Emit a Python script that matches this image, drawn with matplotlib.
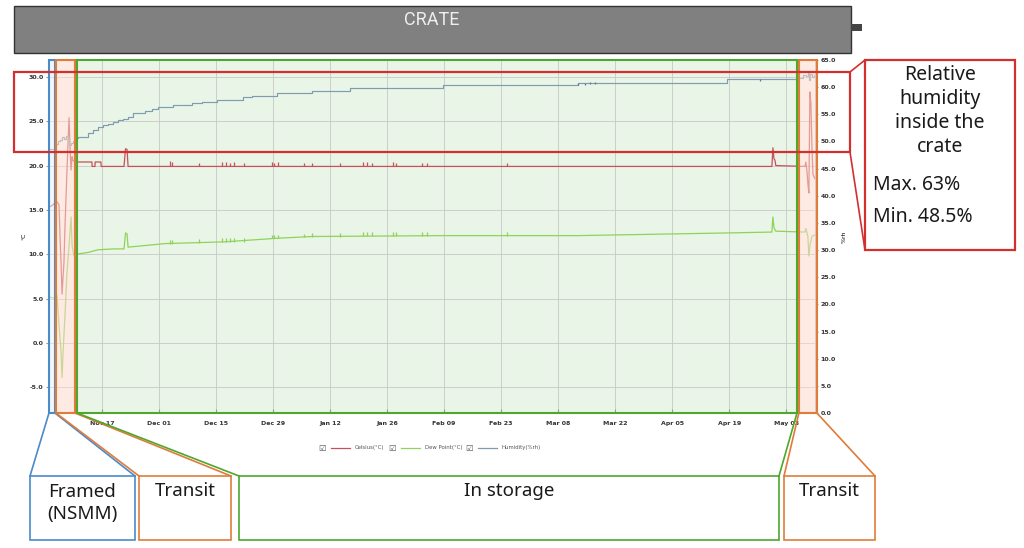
import matplotlib
matplotlib.use('Agg')
import matplotlib.pyplot as plt
import matplotlib.dates as mdates
from matplotlib.patches import Rectangle
import pandas as pd

# ---- data ----
temp_times = ['2019-11-04 00:00', '2019-11-04 18:00', '2019-11-05 11:00', '2019-11-05 17:00',
              '2019-11-05 23:00', '2019-11-06 11:00', '2019-11-06 17:00', '2019-11-06 23:00',
              '2019-11-07 05:00', '2019-11-07 11:00', '2019-11-07 16:00', '2019-11-07 22:00',
              '2019-11-08 10:00', '2019-11-08 22:00', '2019-11-09 04:00', '2019-11-09 10:00',
              '2019-11-09 16:00', '2019-11-09 21:00', '2019-11-10 09:00', '2019-11-14 13:00',
              '2019-11-14 14:00', '2019-11-15 07:00', '2019-11-15 08:00', '2019-11-16 18:00',
              '2019-11-16 19:00', '2019-11-22 10:00', '2019-11-22 19:00', '2019-11-23 04:00',
              '2019-11-23 10:00', '2020-04-29 12:00', '2020-04-29 18:00', '2020-04-30 00:00',
              '2020-04-30 06:00', '2020-04-30 11:00', '2020-05-07 15:00', '2020-05-07 20:00',
              '2020-05-08 02:00', '2020-05-08 08:00', '2020-05-08 14:00', '2020-05-08 20:00',
              '2020-05-09 02:00', '2020-05-09 08:00', '2020-05-09 14:00', '2020-05-10 02:00']
temp_vals = [15.3, 15.5, 15.8, 16.1, 15.9, 15.6, 12.0, 9.0, 5.5, 7.5, 9.0, 13.0, 19.5, 25.4, 22.0,
             19.5, 21.0, 20.6, 20.4, 20.4, 19.9, 19.9, 20.4, 20.4, 19.9, 19.9, 21.9, 21.8, 19.9,
             19.9, 22.0, 20.8, 20.6, 20.0, 19.9, 20.4, 19.5, 18.0, 16.9, 28.3, 27.0, 22.0, 19.0, 18.5]

dew_times = ['2019-11-04 00:00', '2019-11-05 11:00', '2019-11-05 23:00', '2019-11-06 11:00',
             '2019-11-06 23:00', '2019-11-07 05:00', '2019-11-07 11:00', '2019-11-07 22:00',
             '2019-11-08 10:00', '2019-11-08 22:00', '2019-11-09 10:00', '2019-11-09 16:00',
             '2019-11-10 03:00', '2019-11-10 15:00', '2019-11-13 14:00', '2019-11-16 00:00',
             '2019-11-19 17:00', '2019-11-22 10:00', '2019-11-22 19:00', '2019-11-23 04:00',
             '2019-11-23 10:00', '2019-12-02 12:00', '2019-12-17 05:00', '2019-12-29 23:00',
             '2020-01-07 14:00', '2020-02-08 17:00', '2020-03-12 22:00', '2020-04-18 12:00',
             '2020-04-29 12:00', '2020-04-29 18:00', '2020-04-30 00:00', '2020-04-30 11:00',
             '2020-05-07 15:00', '2020-05-07 20:00', '2020-05-08 08:00', '2020-05-08 14:00',
             '2020-05-08 20:00', '2020-05-09 08:00', '2020-05-10 02:00']
dew_vals = [5.2, 5.0, 5.4, 2.0, -1.0, -3.9, -1.0, 3.0, 8.0, 11.0, 14.2, 11.0, 9.8, 10.0, 10.2,
            10.5, 10.6, 10.6, 12.4, 12.3, 10.8, 11.2, 11.4, 11.8, 12.0, 12.1, 12.1, 12.4, 12.5,
            14.2, 13.0, 12.6, 12.5, 12.9, 12.0, 9.8, 11.0, 12.0, 12.2]

hum_times = ['2019-11-04 00:00', '2019-11-05 11:00', '2019-11-05 17:00', '2019-11-06 05:00',
             '2019-11-06 17:00', '2019-11-07 05:00', '2019-11-07 16:00', '2019-11-08 04:00',
             '2019-11-08 16:00', '2019-11-08 22:00', '2019-11-09 10:00', '2019-11-09 21:00',
             '2019-11-10 09:00', '2019-11-11 03:00', '2019-11-13 14:00', '2019-11-14 19:00',
             '2019-11-16 00:00', '2019-11-17 06:00', '2019-11-18 12:00', '2019-11-19 17:00',
             '2019-11-20 23:00', '2019-11-22 04:00', '2019-11-23 10:00', '2019-11-24 15:00',
             '2019-11-25 20:00', '2019-11-27 14:00', '2019-11-29 07:00', '2019-11-30 18:00',
             '2019-12-02 12:00', '2019-12-04 11:00', '2019-12-06 16:00', '2019-12-09 03:00',
             '2019-12-11 13:00', '2019-12-15 06:00', '2019-12-17 05:00', '2019-12-21 15:00',
             '2019-12-23 20:00', '2019-12-29 23:00', '2020-01-07 14:00', '2020-01-16 22:00',
             '2020-02-08 17:00', '2020-03-12 22:00', '2020-04-18 12:00', '2020-05-06 03:00',
             '2020-05-07 03:00', '2020-05-07 20:00', '2020-05-08 08:00', '2020-05-08 14:00',
             '2020-05-08 20:00', '2020-05-09 08:00', '2020-05-09 20:00', '2020-05-10 02:00']
hum_vals = [48.7, 48.5, 49.5, 50.0, 50.3, 50.8, 50.4, 51.0, 50.6, 49.3, 49.8, 50.0, 50.6, 50.8,
            51.6, 52.1, 52.7, 53.1, 53.3, 53.6, 53.9, 54.2, 54.5, 55.2, 55.3, 55.6, 55.9, 56.3,
            56.4, 56.7, 56.8, 57.1, 57.3, 57.6, 57.7, 58.1, 58.4, 58.9, 59.3, 59.8, 60.4, 60.8,
            61.5, 61.6, 62.2, 62.0, 63.0, 61.3, 62.5, 61.8, 62.3, 62.3]

# short door-opening blips during storage
blip_times = ['2019-12-03 17:00', '2019-12-04 05:00', '2019-12-10 20:00', '2019-12-16 11:00',
              '2019-12-17 11:00', '2019-12-18 10:00', '2019-12-19 10:00', '2019-12-21 21:00',
              '2019-12-28 18:00', '2019-12-29 06:00', '2019-12-30 05:00', '2020-01-05 14:00',
              '2020-01-07 14:00', '2020-01-14 11:00', '2020-01-20 02:00', '2020-01-21 02:00',
              '2020-01-22 07:00', '2020-01-27 11:00', '2020-01-28 05:00', '2020-02-03 14:00',
              '2020-02-04 19:00', '2020-02-24 11:00']
temp_blip_top = [20.5, 20.4, 20.3, 20.4, 20.4, 20.3, 20.4, 20.3, 20.4, 20.3, 20.4, 20.3, 20.3,
                 20.3, 20.4, 20.4, 20.3, 20.4, 20.3, 20.3, 20.3, 20.3]
dew_blip_top = [11.6, 11.6, 11.7, 11.8, 11.8, 11.8, 11.8, 11.8, 12.2, 12.2, 12.2, 12.3, 12.4,
                12.4, 12.5, 12.5, 12.5, 12.5, 12.5, 12.5, 12.5, 12.5]
hum_dip_times = ['2020-03-12 22:00', '2020-03-14 14:00', '2020-03-15 19:00', '2020-03-17 01:00',
                 '2020-04-26 14:00']
hum_dip_vals = [60.4, 60.4, 60.5, 60.5, 61.1]

tick_dates = ['2019-11-17', '2019-12-01', '2019-12-15', '2019-12-29', '2020-01-12', '2020-01-26',
              '2020-02-09', '2020-02-23', '2020-03-08', '2020-03-22', '2020-04-05', '2020-04-19',
              '2020-05-03']

# phases: name, start, end
phase_names = ['Framed\n(NSMM)', 'Transit', 'In storage', 'Transit']
phase_start = ['2019-11-04 00:00', '2019-11-05 17:00', '2019-11-10 21:00', '2020-05-06 03:00']
phase_end = ['2019-11-05 11:00', '2019-11-10 09:00', '2020-05-05 16:00', '2020-05-10 13:00']
phase_col = ['#4a8bc9', '#e07b39', '#4ea72e', '#e07b39']
phase_fill = ['#e6f0fa', '#fbd9cc', '#e9f5e6', '#fbd9cc']
label_box = [(30, 135), (139, 231), (239, 779), (784, 875)]

c_temp = '#c9505a'
c_dew = '#8fd35a'
c_hum = '#7f9cb0'

fig = plt.figure(figsize=(10.24, 5.48), dpi=100)
ax = fig.add_axes([49 / 1024, 1 - 413 / 548, 766 / 1024, 353 / 548])
ax2 = ax.twinx()

xmin = pd.Timestamp('2019-11-04 00:00')
xmax = pd.Timestamp('2020-05-10 02:00')
ax.set_xlim(xmin, xmax)
ax.set_ylim(-7.9, 31.9)
ax2.set_ylim(0, 65)

# storage background sits behind the lines
ax.axvspan(pd.Timestamp(phase_start[2]), pd.Timestamp(phase_end[2]), color=phase_fill[2], zorder=0, lw=0)

ax.plot(pd.to_datetime(temp_times), temp_vals, color=c_temp, lw=0.9, zorder=3)
ax.plot(pd.to_datetime(dew_times), dew_vals, color=c_dew, lw=0.9, zorder=3)
ax.vlines(pd.to_datetime(blip_times), 19.9, temp_blip_top, color=c_temp, lw=0.9, zorder=3)
ax.vlines(pd.to_datetime(blip_times), [v - 0.4 for v in dew_blip_top], dew_blip_top,
          color=c_dew, lw=0.9, zorder=3)
ax2.plot(pd.to_datetime(hum_times), hum_vals, color=c_hum, lw=0.85, drawstyle='steps-post')
ax2.vlines(pd.to_datetime(hum_dip_times), hum_dip_vals, [v + 0.4 for v in hum_dip_vals],
           color='#5a7a90', lw=0.9)

ax.set_xticks(pd.to_datetime(tick_dates))
ax.xaxis.set_major_formatter(mdates.DateFormatter('%b %d'))
ax.set_yticks([-5, 0, 5, 10, 15, 20, 25, 30])
ax.yaxis.set_major_formatter(matplotlib.ticker.FormatStrFormatter('%.1f'))
ax2.set_yticks(range(0, 66, 5))
ax2.yaxis.set_major_formatter(matplotlib.ticker.FormatStrFormatter('%.1f'))
ax.grid(True, color='#c8c8c8', lw=0.6)
ax.set_axisbelow(True)
for a in (ax, ax2):
    for s in a.spines.values():
        s.set_color('#bbbbbb')
        s.set_linewidth(0.6)
ax.tick_params(axis='x', direction='in', length=3, color='#999999', labelsize=4.5, pad=6)
ax.tick_params(axis='y', length=2, color='#999999', labelsize=4.5, pad=2)
ax2.tick_params(axis='y', length=2, color='#999999', labelsize=4.5, pad=2)
for lab in ax.get_xticklabels() + ax.get_yticklabels() + ax2.get_yticklabels():
    lab.set_fontweight('bold')
    lab.set_color('#333333')
ax.set_ylabel('°C', fontsize=4.5, labelpad=1)
ax2.set_ylabel('%rh', fontsize=4.5, labelpad=4)

# ---- overlay in figure pixels ----
ov = fig.add_axes([0, 0, 1, 1], zorder=10)
ov.set_xlim(0, 1024)
ov.set_ylim(548, 0)
ov.axis('off')
ov.patch.set_alpha(0)


def xpix(d):
    return ax.transData.transform((mdates.date2num(pd.Timestamp(d)), 0))[0]


top, bot = 60, 413
for i in range(4):
    x0, x1 = xpix(phase_start[i]), xpix(phase_end[i])
    if i != 2:
        ov.add_patch(Rectangle((x0, top), x1 - x0, bot - top, fc=phase_fill[i], alpha=0.55, lw=0))
    ov.add_patch(Rectangle((x0, top), x1 - x0, bot - top, fill=False, ec=phase_col[i], lw=1.5))
    b0, b1 = label_box[i]
    ov.plot([x0, b0], [bot, 476], color=phase_col[i], lw=1.2)
    ov.plot([x1, b1], [bot, 476], color=phase_col[i], lw=1.2)
    ov.add_patch(Rectangle((b0, 476), b1 - b0, 64, fill=False, ec=phase_col[i], lw=1.2))
    ty = 503 if i == 0 else 491
    ov.text((b0 + b1) / 2, ty, phase_names[i], ha='center', va='center', fontsize=13.5,
            family='Noto Sans', color='#1a1a1a', linespacing=1.3)

# header bar
ov.add_patch(Rectangle((14, 6), 837, 47, fc='#808080', ec='#333333', lw=1))
ov.add_patch(Rectangle((851, 24), 11, 7, fc='#444444', lw=0))
ov.text(432, 20, 'CRATE', ha='center', va='center', fontsize=13, color='#eeeeee', family='Roboto')

# humidity highlight + callout
red = '#d32f2f'
ov.add_patch(Rectangle((14, 72), 836, 80, fill=False, ec=red, lw=1.6))
ov.add_patch(Rectangle((865, 60), 150, 190, fill=False, ec=red, lw=1.6))
ov.plot([850, 865], [72, 60], color=red, lw=1.2)
ov.plot([850, 865], [152, 250], color=red, lw=1.2)
ov.text(940, 111, 'Relative\nhumidity\ninside the\ncrate', ha='center', va='center',
        fontsize=14, family='Noto Sans', color='#1a1a1a', linespacing=1.27)
ov.text(873, 185, 'Max. 63%', ha='left', va='center', fontsize=14, family='Noto Sans', color='#1a1a1a')
ov.text(873, 217, 'Min. 48.5%', ha='left', va='center', fontsize=14, family='Noto Sans', color='#1a1a1a')

# legend row
leg_x = [322, 392, 469]
leg_lab = ['Celsius(°C)', 'Dew Point(°C)', 'Humidity(%rh)']
leg_col = [c_temp, c_dew, c_hum]
for x, lab, c in zip(leg_x, leg_lab, leg_col):
    ov.text(x, 448, '☑', ha='center', va='center', fontsize=6, color='#555555', family='DejaVu Sans')
    ov.plot([x + 9, x + 28], [448, 448], color=c, lw=0.9)
    ov.text(x + 33, 448, lab, ha='left', va='center', fontsize=3.9, color='#555555')

fig.savefig('out.png', dpi=100)
